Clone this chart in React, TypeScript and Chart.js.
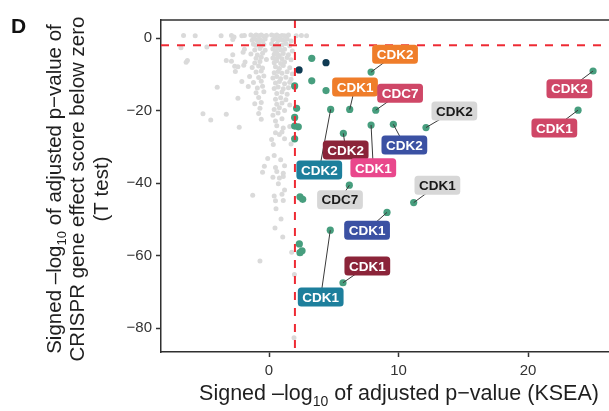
import React, { useEffect, useRef } from "react";
import { Chart, registerables } from "chart.js";

Chart.register(...registerables);

// ---------- data ----------
const xTicks = [0, 10, 20];
const yTicks = [0, -20, -40, -60, -80];
const xCutoff = 2;
const yCutoff = -2;

const grayPoints: [number, number][] = [
  [-6.6, 0.7], [-5.7, 0.6], [-3.7, 0.6], [-2.9, 0.7], [-2.7, 0.3], [-2.1, 0.6], [-1.9, 0.7], [-1.4, 0.8],
  [-1.2, 0.5], [-1.0, 0.8], [-0.8, 0.6], [-0.6, 0.8], [-0.4, 0.5], [-0.2, 0.7], [0.2, 0.8], [0.4, 0.6],
  [0.6, 0.8], [0.8, 0.5], [1.0, 0.7], [1.2, 0.6], [1.5, 0.8], [2.1, 0.6], [2.5, 0.7], [2.9, 0.6],
  [-2.8, -0.4], [-1.3, -0.6], [-1.1, -0.3], [-0.9, -0.7], [-0.7, -0.4], [-0.5, -0.8], [-0.3, -0.3], [0.3, -0.5],
  [0.5, -0.2], [0.7, -0.7], [0.9, -0.4], [1.1, -0.6], [1.4, -0.3], [1.7, -0.8],
  [-1.2, -1.7], [-1.0, -2.0], [-0.8, -1.5], [-0.6, -2.2], [-0.4, -1.8], [0.2, -1.6], [0.4, -2.1], [0.6, -1.7],
  [0.8, -2.3], [1.0, -1.9], [1.3, -1.5], [1.6, -2.1], [-4.8, -2.5], [-6.8, -2.7],
  [-1.9, -3.1], [-1.1, -3.3], [-0.7, -2.9], [-0.3, -3.4], [0.3, -3.0], [0.5, -3.5], [0.7, -2.8], [0.9, -3.3],
  [1.2, -3.1], [1.8, -3.6], [-2.0, -3.9],
  [-2.8, -4.6], [-1.4, -4.4], [-0.9, -4.7], [-0.5, -4.2], [0.4, -4.5], [0.6, -4.1], [0.8, -4.8], [1.1, -4.3], [1.5, -4.6],
  [-1.0, -5.6], [-0.6, -5.3], [-0.2, -5.9], [0.3, -5.5], [0.5, -5.8], [0.7, -5.2], [1.0, -5.7], [1.4, -5.4],
  [1.7, -6.0], [-1.85, -6.6],
  [-6.4, -6.7], [-6.3, -6.2], [-3.3, -6.2], [-2.9, -6.4], [-1.1, -6.9], [-0.7, -6.5], [0.4, -6.8], [0.6, -6.3],
  [0.9, -7.0], [1.2, -6.6],
  [-2.65, -7.8], [-2.4, -7.9], [-1.95, -7.5], [-1.3, -8.1], [-0.8, -7.7], [-0.5, -8.3], [0.5, -7.9], [0.8, -8.4],
  [1.1, -7.6], [1.6, -8.2],
  [-2.6, -9.2], [-1.0, -9.4], [-0.6, -9.1], [0.4, -9.6], [0.7, -9.2], [1.0, -9.7], [1.4, -9.3], [1.8, -9.9],
  [-1.5, -10.6], [-0.8, -10.9], [-0.4, -10.5], [0.3, -11.0], [0.6, -10.6], [0.9, -11.2], [1.3, -10.8], [1.7, -11.4],
  [-2.1, -12.0], [-1.2, -12.3], [-0.6, -11.9], [0.5, -12.4], [0.8, -12.0], [1.2, -12.6], [1.6, -12.2],
  [-4.0, -13.6], [-1.6, -13.4], [-0.9, -13.8], [-0.5, -13.3], [0.4, -13.9], [0.7, -13.5], [1.1, -14.0], [1.5, -13.7],
  [-1.0, -15.1], [-0.4, -14.8], [0.6, -15.3], [1.0, -14.9], [1.4, -15.5],
  [-2.4, -16.6], [-0.8, -16.4], [0.5, -16.9], [0.9, -16.5], [1.3, -17.0],
  [-1.1, -18.1], [-0.6, -17.8], [0.6, -18.3], [1.0, -17.9], [1.6, -18.5],
  [-0.7, -19.4], [0.4, -19.7], [0.8, -19.2], [1.2, -20.0],
  [-5.1, -20.9], [-3.3, -21.0], [-0.8, -20.8], [0.3, -21.3], [0.7, -20.7],
  [-4.5, -22.6], [-0.6, -22.4], [0.5, -22.9], [1.0, -22.3],
  [-2.3, -24.6], [0.6, -24.2], [1.1, -24.8], [1.6, -24.4],
  [0.5, -26.1], [0.8, -26.6], [1.0, -25.9],
  [0.2, -28.0], [1.2, -27.8],
  [0.33, -29.4], [1.7, -29.2],
  [0.4, -32.4], [0.9, -33.6], [-0.1, -33.2],
  [-0.36, -35.4], [0.5, -35.7], [1.2, -35.2],
  [-0.5, -37.0], [0.6, -36.8], [1.1, -37.3],
  [0.3, -38.4], [0.8, -38.6], [1.1, -38.2],
  [0.72, -40.2], [1.2, -41.9],
  [-1.26, -43.4], [0.4, -43.6], [1.0, -43.1],
  [1.1, -44.8], [0.5, -44.9],
  [0.54, -47.1], [0.93, -49.9], [0.46, -52.4], [1.06, -54.9], [1.75, -59.1], [-0.7, -61.5], [1.96, -65.2], [1.93, -82.7],
];

const greenPoints: [number, number][] = [
  [3.3, -5.6],    // 0
  [7.88, -9.4],   // 1  CDK2 orange
  [3.3, -11.8],   // 2
  [1.98, -13.2],  // 3
  [4.4, -14.5],   // 4
  [4.76, -19.7],  // 5  CDK2 teal
  [6.23, -19.7],  // 6  CDK1 orange
  [8.24, -19.9],  // 7  CDC7
  [2.13, -19.4],  // 8
  [1.98, -21.9],  // 9
  [2.26, -24.5],  // 10
  [1.98, -24.3],  // 11
  [1.98, -27.8],  // 12
  [5.74, -26.3],  // 13 CDK2 dark red
  [7.88, -24.0],  // 14 CDK1 pink
  [9.6, -23.8],   // 15 CDK2 blue
  [12.12, -24.7], // 16 CDK2 gray
  [6.2, -40.6],   // 17 CDC7 gray
  [2.39, -43.8],  // 18
  [2.6, -44.5],   // 19
  [2.34, -56.8],  // 20
  [2.39, -59.2],  // 21
  [2.55, -58.7],  // 22
  [11.17, -45.4], // 23 CDK1 gray
  [9.11, -48.1],  // 24 CDK1 blue
  [4.73, -53.0],  // 25 CDK1 teal
  [5.71, -67.5],  // 26 CDK1 dark red
  [25.02, -9.1],  // 27 CDK2 red
  [23.86, -19.9], // 28 CDK1 red
];

const navyPoints: [number, number][] = [
  [4.4, -6.8],
  [2.32, -8.8],
];

const labelTexts = ["CDK2", "CDK1", "CDC7", "CDK2", "CDK2", "CDK2", "CDK1", "CDK2", "CDC7", "CDK1", "CDK1", "CDK1", "CDK1", "CDK2", "CDK1"];
const labelPointIndex = [1, 6, 7, 16, 15, 13, 14, 5, 17, 23, 24, 26, 25, 27, 28];
const labelX = [9.73, 6.64, 10.12, 14.31, 10.45, 5.92, 8.05, 3.88, 5.48, 13.0, 7.57, 7.59, 3.99, 23.19, 22.03];
const labelY = [-4.5, -13.5, -15.2, -20.1, -29.5, -30.9, -35.8, -36.4, -44.6, -40.6, -53.0, -62.9, -71.4, -14.0, -24.8];
const labelGroup = ["orange", "orange", "red", "gray", "blue", "darkred", "pink", "teal", "gray", "gray", "blue", "darkred", "teal", "red", "red"];

// ---------- styles ----------
const FONT = "'Liberation Sans', Arial, Helvetica, sans-serif";
const groupFill: Record<string, string> = {
  orange: "#ef7d2a",
  red: "#cf4767",
  gray: "#d7d7d7",
  blue: "#3b51a3",
  darkred: "#8b2439",
  pink: "#e9488c",
  teal: "#1d7f9c",
};

const fmt = (v: number) => (v < 0 ? "\u2212" + Math.abs(v) : String(v));

type Part = { t: string; sub?: boolean };

function drawRich(ctx: CanvasRenderingContext2D, parts: Part[], cx: number, baseY: number, size: number) {
  const subSize = Math.round(size * 0.64);
  let total = 0;
  for (const p of parts) {
    ctx.font = `${p.sub ? subSize : size}px ${FONT}`;
    total += ctx.measureText(p.t).width;
  }
  let x = cx - total / 2;
  ctx.textAlign = "left";
  ctx.textBaseline = "alphabetic";
  for (const p of parts) {
    ctx.font = `${p.sub ? subSize : size}px ${FONT}`;
    ctx.fillText(p.t, x, p.sub ? baseY + size * 0.28 : baseY);
    x += ctx.measureText(p.t).width;
  }
}

function roundRect(ctx: CanvasRenderingContext2D, x: number, y: number, w: number, h: number, r: number) {
  ctx.beginPath();
  ctx.moveTo(x + r, y);
  ctx.lineTo(x + w - r, y);
  ctx.quadraticCurveTo(x + w, y, x + w, y + r);
  ctx.lineTo(x + w, y + h - r);
  ctx.quadraticCurveTo(x + w, y + h, x + w - r, y + h);
  ctx.lineTo(x + r, y + h);
  ctx.quadraticCurveTo(x, y + h, x, y + h - r);
  ctx.lineTo(x, y + r);
  ctx.quadraticCurveTo(x, y, x + r, y);
  ctx.closePath();
}

const overlayPlugin = {
  id: "overlay",
  afterDatasetsDraw(chart: any) {
    const { ctx, chartArea, scales } = chart;
    const { left, right, top, bottom } = chartArea;
    const xs = scales.x;
    const ys = scales.y;
    ctx.save();
    ctx.beginPath();
    ctx.rect(left, top, right - left, bottom - top);
    ctx.clip();
    // threshold lines
    ctx.strokeStyle = "#ee2a33";
    ctx.lineWidth = 2;
    ctx.setLineDash([8, 8]);
    const xp = xs.getPixelForValue(xCutoff);
    ctx.beginPath();
    ctx.moveTo(xp, top);
    ctx.lineTo(xp, bottom);
    ctx.stroke();
    const yp = ys.getPixelForValue(yCutoff);
    ctx.beginPath();
    ctx.moveTo(left, yp);
    ctx.lineTo(right, yp);
    ctx.stroke();
    ctx.setLineDash([]);

    // connectors
    ctx.strokeStyle = "#3a3a3a";
    ctx.lineWidth = 1;
    labelTexts.forEach((_, i) => {
      const p = greenPoints[labelPointIndex[i]];
      ctx.beginPath();
      ctx.moveTo(xs.getPixelForValue(p[0]), ys.getPixelForValue(p[1]));
      ctx.lineTo(xs.getPixelForValue(labelX[i]), ys.getPixelForValue(labelY[i]));
      ctx.stroke();
    });

    // labels
    ctx.font = `bold 13.5px ${FONT}`;
    ctx.textAlign = "center";
    ctx.textBaseline = "middle";
    labelTexts.forEach((t, i) => {
      const cx = xs.getPixelForValue(labelX[i]);
      const cy = ys.getPixelForValue(labelY[i]);
      const w = ctx.measureText(t).width + 9;
      const h = 19;
      const g = labelGroup[i];
      ctx.fillStyle = groupFill[g];
      roundRect(ctx, cx - w / 2, cy - h / 2, w, h, 3.5);
      ctx.fill();
      ctx.fillStyle = g === "gray" ? "#1a1a1a" : "#ffffff";
      ctx.fillText(t, cx, cy + 1);
    });
    ctx.restore();
  },
  afterDraw(chart: any) {
    const { ctx, chartArea } = chart;
    const { left, right, top } = chartArea;
    ctx.save();
    // top frame line
    ctx.strokeStyle = "#2f2f2f";
    ctx.lineWidth = 1.5;
    ctx.beginPath();
    ctx.moveTo(left - 0.75, top);
    ctx.lineTo(right, top);
    ctx.stroke();

    ctx.fillStyle = "#1f1f1f";
    // x title
    drawRich(
      ctx,
      [{ t: "Signed \u2013log" }, { t: "10", sub: true }, { t: " of adjusted p\u2212value (KSEA)" }],
      399,
      400,
      21.5
    );
    // y title
    const lines: Part[][] = [
      [{ t: "Signed \u2013log" }, { t: "10", sub: true }, { t: " of adjusted p\u2212value of" }],
      [{ t: "CRISPR gene effect score below zero" }],
      [{ t: "(T test)" }],
    ];
    const baseX = [60.5, 84, 107.5];
    lines.forEach((parts, i) => {
      ctx.save();
      ctx.translate(baseX[i], 189);
      ctx.rotate(-Math.PI / 2);
      drawRich(ctx, parts, 0, 0, 20.5);
      ctx.restore();
    });
    // panel letter
    ctx.font = `bold 21px ${FONT}`;
    ctx.textAlign = "left";
    ctx.textBaseline = "alphabetic";
    ctx.fillStyle = "#111";
    ctx.fillText("D", 11, 33);
    ctx.restore();
  },
};

export default function App() {
  const canvasRef = useRef<HTMLCanvasElement | null>(null);

  useEffect(() => {
    document.body.style.margin = "0";
    const canvas = canvasRef.current;
    if (!canvas) return;
    const toXY = (arr: [number, number][]) => arr.map(([x, y]) => ({ x, y }));
    const chart = new Chart(canvas, {
      type: "scatter",
      data: {
        datasets: [
          {
            data: toXY(navyPoints),
            backgroundColor: "#0f3b53",
            pointRadius: 3.6,
            borderWidth: 0,
            order: 1,
          },
          {
            data: toXY(greenPoints),
            backgroundColor: "#479e7e",
            pointRadius: 3.6,
            borderWidth: 0,
            order: 2,
          },
          {
            data: toXY(grayPoints),
            backgroundColor: "#dadada",
            pointRadius: 2.5,
            borderWidth: 0,
            order: 3,
          },
        ],
      },
      options: {
        animation: false,
        responsive: true,
        maintainAspectRatio: false,
        layout: { padding: { top: 20, left: 0, right: 0, bottom: 0 }, autoPadding: false },
        plugins: { legend: { display: false }, tooltip: { enabled: false } },
        events: [],
        scales: {
          x: {
            type: "linear",
            min: -8.34,
            max: 26.25,
            afterBuildTicks: (s: any) => {
              s.ticks = xTicks.map((v) => ({ value: v }));
            },
            afterFit: (s: any) => {
              s.height = 59;
            },
            grid: { drawOnChartArea: false, drawTicks: true, tickLength: 5, tickWidth: 1.5, tickColor: "#333" },
            border: { display: true, color: "#2f2f2f", width: 1.5 },
            ticks: {
              color: "#333",
              font: { size: 15, family: FONT },
              padding: 5,
              maxRotation: 0,
              callback: (v: any) => fmt(Number(v)),
            },
          },
          y: {
            type: "linear",
            min: -86.6,
            max: 4.97,
            afterBuildTicks: (s: any) => {
              s.ticks = yTicks.map((v) => ({ value: v }));
            },
            afterFit: (s: any) => {
              s.width = 161;
            },
            grid: { drawOnChartArea: false, drawTicks: true, tickLength: 5, tickWidth: 1.5, tickColor: "#333" },
            border: { display: true, color: "#2f2f2f", width: 1.5 },
            ticks: {
              color: "#333",
              font: { size: 15, family: FONT },
              padding: 4,
              callback: (v: any) => fmt(Number(v)),
            },
          },
        },
      },
      plugins: [overlayPlugin],
    } as any);
    return () => chart.destroy();
  }, []);

  return (
    <div style={{ width: 609, height: 411, position: "relative" }}>
      <canvas ref={canvasRef} />
    </div>
  );
}
